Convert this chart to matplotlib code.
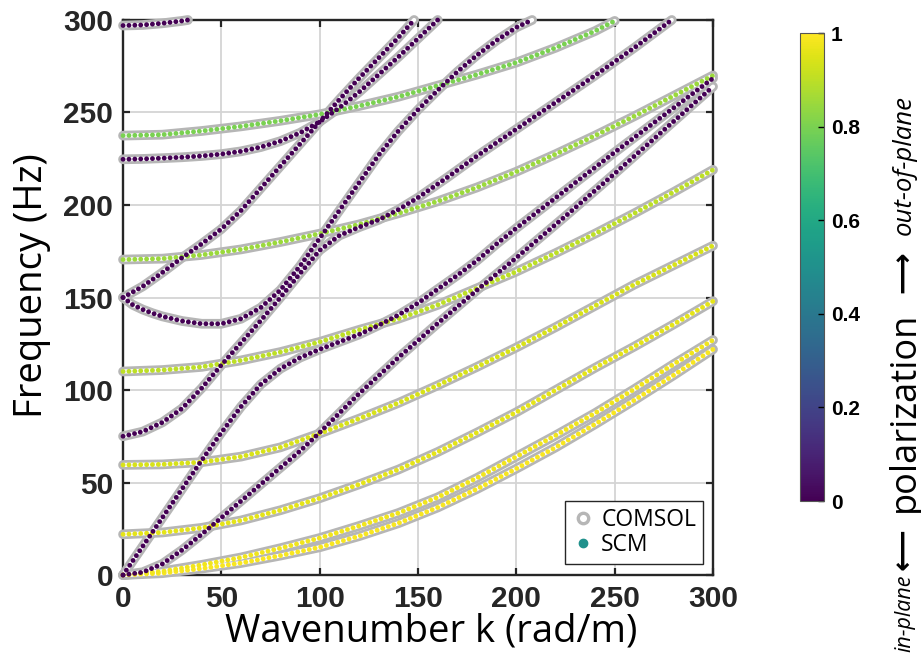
import matplotlib as mpl
import matplotlib.pyplot as plt
from matplotlib.lines import Line2D
from matplotlib.colors import Normalize

# ---------------- data ----------------
k_grid = [0, 20, 40, 60, 80, 100, 120, 140, 160, 180, 200, 220, 240, 260, 280, 300]

# out-of-plane branches (yellow / green)
f_y1 = [0, 1, 3.5, 6.5, 10.5, 15, 21, 28, 36.5, 46.5, 57.5, 69, 81.5, 94.5, 108, 122]
f_y2 = [0, 2, 5.5, 9.5, 14.5, 20, 26.5, 33.5, 42, 52.5, 64, 75.5, 87.5, 100.5, 114, 127]
f_y3 = [22, 23, 25.5, 29.5, 35, 41.5, 49, 57, 66.5, 77, 88, 100, 112, 123.5, 135.5, 148]
f_y4 = [59.5, 59.8, 61, 64, 69, 76.5, 84.5, 93, 102.5, 112.5, 123, 134, 145.5, 157, 167.5, 178]
f_y5 = [110, 110.8, 112.5, 116, 120.5, 126, 132.5, 138.5, 146, 155, 164, 174, 184.5, 195.5, 207, 219]
f_g6 = [170.5, 171, 173, 176, 180, 184.5, 189.5, 195.5, 202, 209.5, 218, 227.5, 237.5, 248, 259, 270]

k_g7 = [0, 20, 40, 60, 80, 100, 120, 140, 160, 180, 200, 220, 240, 250]
f_g7 = [237.5, 238, 240, 242.5, 245.5, 249, 253.5, 258.5, 264.5, 270.5, 277, 285, 294, 299.5]

# in-plane branches (purple)
k_pa = [0, 10, 20, 30, 40, 50, 60, 70, 80, 90, 100, 110, 120, 130, 140, 150, 160, 170, 180, 190, 200, 225, 250, 275, 300]
f_pa = [0, 15.5, 31, 46.5, 62, 77, 91, 103, 111.5, 117.5, 122, 126, 130, 135, 140.5, 147, 154.5, 162, 170, 179, 187.5, 208, 228.5, 248.5, 268.5]

k_pb = [0, 10, 20, 30, 40, 50, 60, 70, 80, 90, 100, 110, 120, 140, 160, 180, 200, 225, 250, 275, 300]
f_pb = [0, 1.5, 6, 13.5, 22, 31, 40, 49, 58, 67, 77, 87.5, 98, 117.5, 136, 154, 171.5, 194, 217, 240.5, 264]

k_pc = [0, 10, 20, 30, 40, 50, 60, 70, 80, 90, 100, 110, 120, 130, 140, 150, 165, 180, 200, 220, 240, 260, 279]
f_pc = [75, 77.5, 82.5, 90, 101, 113.5, 125.5, 137.5, 150, 163, 175.5, 183.5, 188, 192, 197.5, 204, 215, 226.5, 241, 255.5, 270, 285, 300]

k_pd = [0, 10, 20, 30, 40, 50, 60, 70, 80, 90, 100, 110, 120, 130, 140, 148]
f_pd = [150, 156, 163.5, 171.5, 179, 187, 197, 209, 221, 233, 245, 257, 268.5, 279.5, 290.5, 300]

k_pe = [0, 5, 10, 15, 20, 30, 40, 50, 60, 70, 80, 90, 100, 110, 120, 130, 140, 150, 160, 170, 180, 190, 200, 208]
f_pe = [150, 146, 143.5, 141.5, 139.8, 137.3, 135.8, 135.8, 138.5, 144.5, 154, 167, 182, 197, 212, 227, 240, 251.5, 262, 272, 281, 289, 296, 300]

k_pf = [0, 10, 20, 30, 40, 50, 60, 70, 80, 90, 100, 110, 120, 130, 140, 150, 160]
f_pf = [224.7, 224.9, 225.3, 225.8, 226.5, 227.5, 229, 231.3, 234.5, 239, 245, 252.5, 261, 270.5, 280, 290, 300]

k_pg = [0, 10, 20, 30, 33]
f_pg = [297, 297.3, 298.2, 299.5, 300]

# polarization of each branch (0 = in-plane, 1 = out-of-plane)
pol_y1, pol_y2, pol_y3, pol_y4, pol_y5, pol_g6, pol_g7 = 0.99, 0.98, 0.96, 0.94, 0.90, 0.85, 0.80
pol_inplane = 0.0

branches = [
    (k_grid, f_y1, pol_y1),
    (k_grid, f_y2, pol_y2),
    (k_grid, f_y3, pol_y3),
    (k_grid, f_y4, pol_y4),
    (k_grid, f_y5, pol_y5),
    (k_grid, f_g6, pol_g6),
    (k_g7, f_g7, pol_g7),
    (k_pa, f_pa, pol_inplane),
    (k_pb, f_pb, pol_inplane),
    (k_pc, f_pc, pol_inplane),
    (k_pd, f_pd, pol_inplane),
    (k_pe, f_pe, pol_inplane),
    (k_pf, f_pf, pol_inplane),
    (k_pg, f_pg, pol_inplane),
]

x_ticks = [0, 50, 100, 150, 200, 250, 300]
y_ticks = [0, 50, 100, 150, 200, 250, 300]
cb_ticks = [0, 0.2, 0.4, 0.6, 0.8, 1]
cb_ticklabels = ["0", "0.2", "0.4", "0.6", "0.8", "1"]

# ---------------- figure ----------------
label_font = ["Open Sans", "DejaVu Sans"]
tick_font = ["Liberation Sans", "DejaVu Sans"]
dark = "#262626"
gray = "#b6b6b6"

fig = plt.figure(figsize=(9.21, 6.66), dpi=100)
ax = fig.add_axes([0.1336, 0.1366, 0.6406, 0.8334])
cmap = plt.get_cmap("viridis")

# out-of-plane first, in-plane on top
order = sorted(branches, key=lambda b: -b[2])

# COMSOL: grey open circles -> grey band with light centre
for k, f, p in order:
    ax.plot(k, f, color=gray, lw=7.0, solid_capstyle="round",
            solid_joinstyle="round", clip_on=False, zorder=3)
for k, f, p in order:
    ax.plot(k, f, color="white", lw=3.0, solid_capstyle="round",
            solid_joinstyle="round", clip_on=False, zorder=4)
# SCM: coloured dots
for k, f, p in order:
    ax.plot(k, f, color=cmap(p), lw=3.5, linestyle=(0, (0.01, 1.2)),
            dash_capstyle="round", clip_on=False, zorder=5)

ax.set_xlim(0, 300)
ax.set_ylim(0, 300)
ax.set_xticks(x_ticks)
ax.set_yticks(y_ticks)
ax.set_xticklabels([str(t) for t in x_ticks], family=tick_font,
                   fontweight="bold", fontsize=21.5, color=dark)
ax.set_yticklabels([str(t) for t in y_ticks], family=tick_font,
                   fontweight="bold", fontsize=21.5, color=dark)
ax.tick_params(direction="in", length=5, width=1.6, color=dark,
               top=True, right=True)
ax.tick_params(axis="x", pad=7)
ax.tick_params(axis="y", pad=7)
ax.grid(True, color="#d4d4d4", lw=1.3, zorder=0)
ax.set_axisbelow(True)
for s in ax.spines.values():
    s.set_linewidth(1.7)
    s.set_color(dark)
    s.set_zorder(2)

ax.set_xlabel("Wavenumber k (rad/m)", family=label_font, fontsize=27.5)
ax.set_ylabel("Frequency (Hz)", family=label_font, fontsize=27.5)
ax.xaxis.set_label_coords(0.522, -0.068)
ax.yaxis.set_label_coords(-0.122, 0.522)

# legend
handles = [
    Line2D([], [], ls="none", marker="o", ms=7.5, mfc="none", mec=gray, mew=2.4),
    Line2D([], [], ls="none", marker="o", ms=6, color=cmap(0.5)),
]
leg = ax.legend(handles, ["COMSOL", "SCM"], loc="lower right",
                bbox_to_anchor=(0.983, 0.02), fancybox=False, framealpha=1,
                edgecolor=dark, prop={"family": label_font, "size": 16.5},
                handletextpad=0.3, borderpad=0.3, labelspacing=0.05,
                handlelength=1.0, borderaxespad=0)
leg.get_frame().set_linewidth(1.0)
leg.set_zorder(10)

# colorbar
cax = fig.add_axes([0.8686, 0.2477, 0.026, 0.7027])
sm = mpl.cm.ScalarMappable(norm=Normalize(0, 1), cmap=cmap)
cb = fig.colorbar(sm, cax=cax, ticks=cb_ticks)
cb.ax.set_yticklabels(cb_ticklabels, family=tick_font, fontweight="bold",
                      fontsize=15, color="black")
cb.ax.tick_params(direction="in", length=4, width=1, pad=5)
cb.outline.set_linewidth(0.8)
cb.outline.set_edgecolor("#555555")

# colorbar label pieces (rotated)
xl = 0.982
fig.text(xl, 0.079, "in-plane", rotation=90, ha="center", va="center",
         family=label_font, style="italic", fontsize=15.5)
fig.text(xl, 0.175, "\u27f5", rotation=90, ha="center", va="center",
         family="DejaVu Sans", fontsize=21, fontweight="bold")
fig.text(xl, 0.382, "polarization", rotation=90, ha="center", va="center",
         family=label_font, fontsize=26)
fig.text(xl, 0.592, "\u27f6", rotation=90, ha="center", va="center",
         family="DejaVu Sans", fontsize=21, fontweight="bold")
fig.text(xl, 0.752, "out-of-plane", rotation=90, ha="center", va="center",
         family=label_font, style="italic", fontsize=18.5)

fig.savefig("out.png", dpi=100)
